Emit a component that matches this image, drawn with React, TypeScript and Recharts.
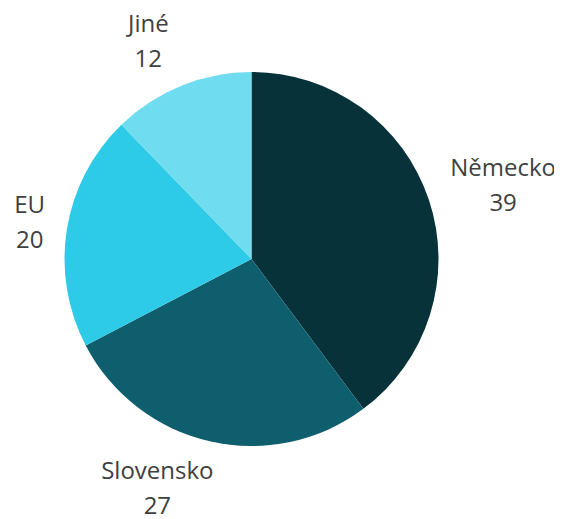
import React from 'react';
import { PieChart, Pie, Cell } from 'recharts';

const categories = ['Německo', 'Slovensko', 'EU', 'Jiné'];
const values = [39, 27, 20, 12];
const colors = ['#08323a', '#0f5e6d', '#2ecbe8', '#6fdcf0'];

const data = categories.map((name, i) => ({ name, value: values[i] }));

const FONT = '"Open Sans", "Noto Sans", sans-serif';
const FS = 24;
const LH = 35;
const GAP = 22;
const PAD = 7;
const KX = 3.5;
const RADIAN = Math.PI / 180;

let ctx: CanvasRenderingContext2D | null = null;
function measure(t: string): number {
  if (!ctx) {
    const c = document.createElement('canvas');
    ctx = c.getContext('2d');
  }
  if (!ctx) return t.length * FS * 0.58;
  ctx.font = `${FS}px "Open Sans"`;
  return ctx.measureText(t).width;
}

const clamp = (v: number) => Math.max(-1, Math.min(1, v));

const renderLabel = (props: any) => {
  const { cx, cy, midAngle, outerRadius, name, value, index } = props;
  const w = Math.max(measure(String(name)), measure(String(value)));
  const cap = 0.72 * FS;
  const h = cap + LH;
  const ux = Math.cos(-midAngle * RADIAN);
  const uy = Math.sin(-midAngle * RADIAN);
  const R = outerRadius + GAP - PAD;
  const bx = cx + R * ux + clamp(ux * KX) * (w / 2 + PAD);
  const by = cy + R * uy + clamp(uy) * (h / 2 + PAD);
  const b1 = by - h / 2 + cap;
  return (
    <g key={`lbl-${index}`}>
      <text x={bx} y={b1} textAnchor="middle" fill="#404040" fontSize={FS} fontFamily={FONT}>
        {name}
      </text>
      <text x={bx} y={b1 + LH} textAnchor="middle" fill="#404040" fontSize={FS} fontFamily={FONT}>
        {value}
      </text>
    </g>
  );
};

export default function App() {
  return (
    <PieChart width={554} height={511} margin={{ top: 0, right: 0, bottom: 0, left: 0 }} style={{ overflow: 'visible' }}>
      <Pie
        data={data}
        dataKey="value"
        nameKey="name"
        cx={243.5}
        cy={251}
        outerRadius={187}
        startAngle={90}
        endAngle={-270}
        stroke="none"
        label={renderLabel}
        labelLine={false}
        isAnimationActive={false}
      >
        {data.map((d, i) => (
          <Cell key={d.name} fill={colors[i]} />
        ))}
      </Pie>
    </PieChart>
  );
}
